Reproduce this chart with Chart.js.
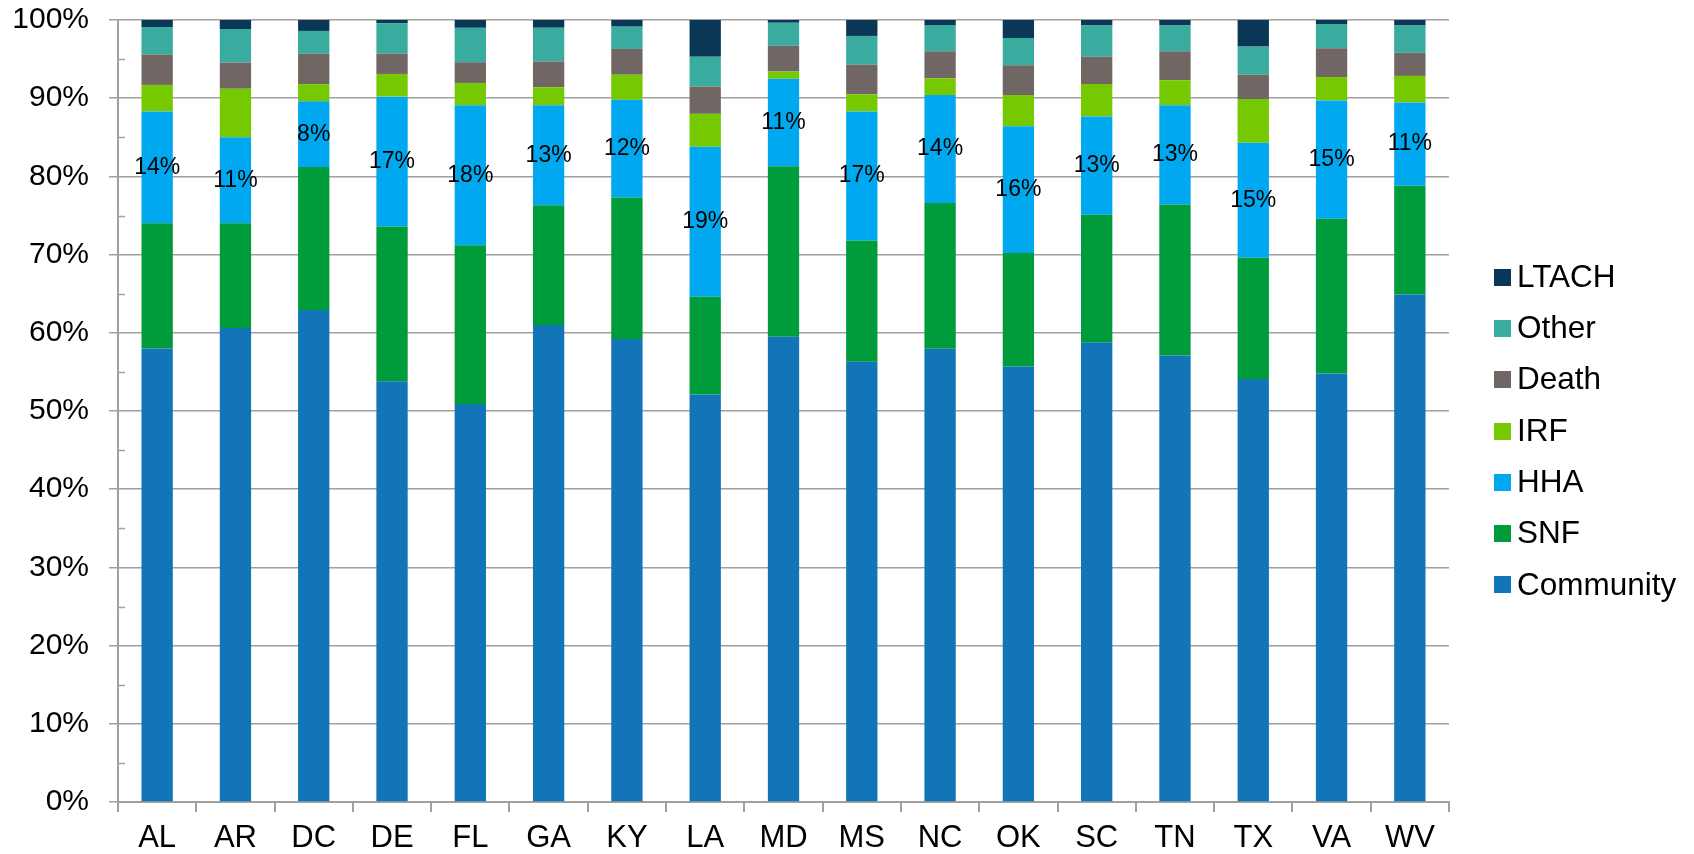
<!DOCTYPE html>
<html>
<head>
<meta charset="utf-8">
<script src="https://cdn.jsdelivr.net/npm/chart.js@4.4.1/dist/chart.umd.min.js"></script>
<style>
html,body{margin:0;padding:0;background:#ffffff;}
#wrap{width:1694px;height:854px;position:relative;}
</style>
</head>
<body>
<div id="wrap"><canvas id="c" width="1694" height="854"></canvas></div>
<script>
const categories = ["AL","AR","DC","DE","FL","GA","KY","LA","MD","MS","NC","OK","SC","TN","TX","VA","WV"];
const community = [58.0,60.6,62.9,53.8,50.9,61.0,59.2,52.1,59.5,56.3,57.95,55.7,58.8,57.1,54.1,54.8,64.9];
const snf       = [16.0,13.4,18.3,19.8,20.3,15.3,18.1,12.5,21.8,15.5,18.65,14.5,16.3,19.3,15.5,19.8,13.9];
const hha       = [14.3,11.0,8.4,16.6,17.9,12.8,12.5,19.2,11.2,16.5,13.8,16.2,12.55,12.7,14.7,15.1,10.65];
const irf       = [3.4,6.2,2.2,2.9,2.85,2.3,3.2,4.2,0.9,2.2,2.15,4.0,4.15,3.2,5.6,3.0,3.4];
const death     = [3.9,3.35,3.9,2.6,2.65,3.3,3.3,3.5,3.3,3.8,3.45,3.8,3.5,3.7,3.1,3.7,2.95];
const other     = [3.5,4.3,2.9,3.9,4.4,4.3,2.85,3.8,2.96,3.66,3.36,3.5,4.0,3.3,3.6,3.1,3.5];
const ltach     = [0.9,1.15,1.4,0.4,1.0,1.0,0.85,4.7,0.34,2.04,0.64,2.3,0.7,0.7,3.4,0.5,0.7];
const hhaLabels = ["14%","11%","8%","17%","18%","13%","12%","19%","11%","17%","14%","16%","13%","13%","15%","15%","11%"];
const seriesNames = ["Community","SNF","HHA","IRF","Death","Other","LTACH"];
const seriesColors = ["#1275B7","#009B3A","#00A9EF","#76C800","#706664","#39AB9F","#0B3757"];
const yMax = 100;
const yStep = 10;

const FONT = "'Liberation Sans', Arial, Helvetica, sans-serif";
const GRID = "#a0a0a0";

const seriesData = [community, snf, hha, irf, death, other, ltach];
const datasets = seriesNames.map((name, i) => ({
  label: name,
  data: seriesData[i],
  backgroundColor: seriesColors[i],
  borderWidth: 0,
  barPercentage: 0.4,
  categoryPercentage: 1.0,
  stack: "s"
}));

const minorTicks = {
  id: "minorTicks",
  afterDraw(chart) {
    const ys = chart.scales.y;
    const ctx = chart.ctx;
    const left = chart.chartArea.left;
    ctx.save();
    ctx.strokeStyle = GRID;
    ctx.lineWidth = 1.5;
    for (let v = yStep / 2; v < yMax; v += yStep) {
      const py = Math.round(ys.getPixelForValue(v)) + 0.5;
      ctx.beginPath();
      ctx.moveTo(left, py);
      ctx.lineTo(left + 7, py);
      ctx.stroke();
    }
    ctx.restore();
  }
};

const hhaLabelPlugin = {
  id: "hhaLabels",
  afterDatasetsDraw(chart) {
    const meta = chart.getDatasetMeta(2);
    const ctx = chart.ctx;
    ctx.save();
    ctx.fillStyle = "#000";
    ctx.font = "23px " + FONT;
    ctx.textAlign = "center";
    ctx.textBaseline = "middle";
    meta.data.forEach((el, i) => {
      const y = (el.y + el.base) / 2;
      ctx.fillText(hhaLabels[i], el.x, y);
    });
    ctx.restore();
  }
};

const customLegend = {
  id: "customLegend",
  afterDraw(chart) {
    const ctx = chart.ctx;
    const ds = chart.data.datasets;
    const boxX = chart.chartArea.right + 45;
    const step = 51.3;
    const n = ds.length;
    const midY = 431;
    const firstY = midY - step * (n - 1) / 2;
    ctx.save();
    ctx.font = "31.5px " + FONT;
    ctx.textAlign = "left";
    ctx.textBaseline = "middle";
    for (let k = 0; k < n; k++) {
      const d = ds[n - 1 - k];
      const y = firstY + k * step;
      ctx.fillStyle = d.backgroundColor;
      ctx.fillRect(boxX, Math.round(y - 8.5), 17, 17);
      ctx.fillStyle = "#000";
      ctx.fillText(d.label, boxX + 23, y + 1);
    }
    ctx.restore();
  }
};

new Chart(document.getElementById("c"), {
  type: "bar",
  data: { labels: categories, datasets: datasets },
  options: {
    responsive: false,
    animation: false,
    devicePixelRatio: 1,
    layout: { padding: { top: 20, left: 0, right: 245, bottom: 0 } },
    plugins: {
      legend: { display: false },
      tooltip: { enabled: false }
    },
    scales: {
      x: {
        stacked: true,
        grid: { display: true, drawOnChartArea: false, drawTicks: true, offset: true, tickLength: 10, color: GRID, lineWidth: 2 },
        border: { display: true, color: GRID, width: 2 },
        ticks: { color: "#000", font: { size: 31, family: FONT }, padding: 8, maxRotation: 0, autoSkip: false },
        afterFit(s) { s.height = 52; s.paddingLeft = 0; s.paddingRight = 0; }
      },
      y: {
        stacked: true,
        min: 0,
        max: yMax,
        grid: { color: GRID, lineWidth: 1.5, drawTicks: true, tickLength: 9 },
        border: { display: true, color: GRID, width: 2 },
        ticks: { stepSize: yStep, color: "#000", font: { size: 30, family: FONT }, padding: 20, callback: v => v + "%" },
        afterFit(s) { s.width = 118; s.paddingTop = 0; s.paddingBottom = 0; }
      }
    }
  },
  plugins: [minorTicks, hhaLabelPlugin, customLegend]
});
</script>
</body>
</html>
